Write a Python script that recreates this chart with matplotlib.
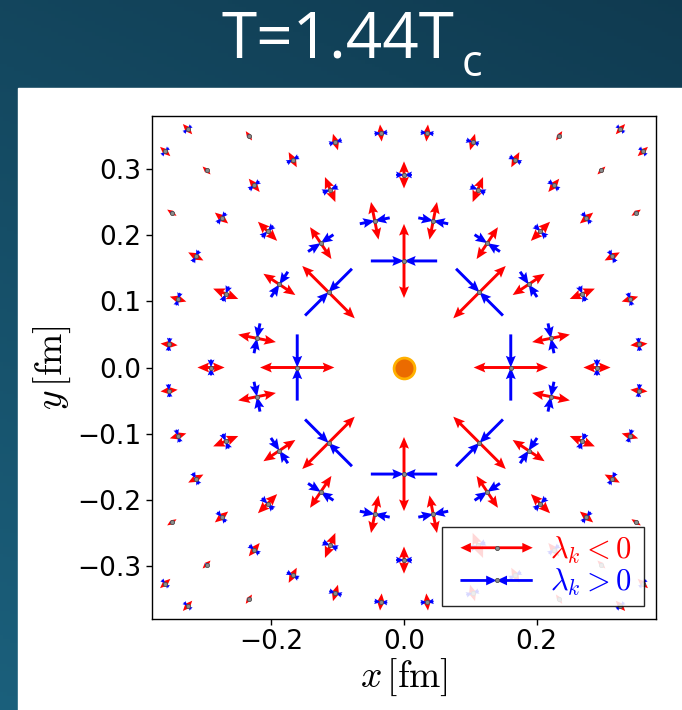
import numpy as np
import matplotlib
matplotlib.use("Agg")
import matplotlib.pyplot as plt
from matplotlib.legend_handler import HandlerBase
from matplotlib.patches import FancyArrow, Rectangle
from matplotlib.lines import Line2D

plt.rcParams["mathtext.fontset"] = "cm"

# sample points sit on rings around the source at the origin
ring_radius = [0.161, 0.226, 0.291, 0.356, 0.421, 0.486]
ring_count = [8, 16, 16, 32, 32, 64]
ring_offset = [0.0, 0.5, 0.0, 0.5, 0.0, 0.5]   # in units of the angular step
# half-lengths (fm) of the eigenvector arrows on each ring
red_len = [0.056, 0.029, 0.0205, 0.013, 0.0085, 0.0105]   # lambda_k < 0 (radial)
blue_len = [0.050, 0.023, 0.012, 0.0098, 0.0015, 0.0075]  # lambda_k > 0 (tangential)

xticks = [-0.2, 0.0, 0.2]
yticks = [-0.3, -0.2, -0.1, 0.0, 0.1, 0.2, 0.3]
lim = 0.38
legend_labels = [r"$\lambda_k < 0$", r"$\lambda_k > 0$"]

W, H = 682, 710


class ArrowPairHandler(HandlerBase):
    """Legend entry drawn as a pair of arrows with a dot in the middle."""

    def __init__(self, color, outward, lead=0.13):
        super().__init__()
        self.color = color
        self.outward = outward
        self.lead = lead

    def create_artists(self, legend, orig_handle, xdescent, ydescent,
                       width, height, fontsize, trans):
        x1 = -xdescent + width
        x0 = -xdescent + self.lead * width
        xc = 0.5 * (x0 + x1)
        y = -ydescent + 0.5 * height
        half = 0.5 * (x1 - x0)
        kw = dict(width=2.0, head_width=7.0, head_length=7.5,
                  length_includes_head=True, color=self.color, lw=0,
                  transform=trans)
        if self.outward:
            arts = [FancyArrow(xc, y, half, 0, **kw),
                    FancyArrow(xc, y, -half, 0, **kw)]
        else:
            arts = [FancyArrow(x0, y, half, 0, **kw),
                    FancyArrow(x1, y, -half, 0, **kw)]
        dot = Line2D([xc], [y], marker="o", ms=3, mfc="#8c8c8c",
                     mec="#4d4d4d", mew=0.6, ls="none", transform=trans)
        return arts + [dot]


fig = plt.figure(figsize=(W / 100, H / 100), dpi=100)

# slide background
bg = fig.add_axes([0, 0, 1, 1])
bg.set_xlim(0, W)
bg.set_ylim(0, H)
bg.axis("off")
gx, gy = np.meshgrid(np.linspace(0, 1, 200), np.linspace(0, 1, 200))
t = 0.7 * (1 - gy) + 0.3 * (1 - gx)
dark = np.array([0.062, 0.230, 0.315])
light = np.array([0.105, 0.375, 0.485])
img = dark[None, None, :] * (1 - t[..., None]) + light[None, None, :] * t[..., None]
bg.imshow(img, extent=[0, W, 0, H], origin="lower", aspect="auto", zorder=0)
bg.add_patch(Rectangle((18, 0), W - 18, H - 88, color="white", zorder=1))

bg.text(222, H - 58, "T=1.44T", color="white", fontsize=46,
        family="Open Sans", ha="left", va="baseline", zorder=2)
bg.text(462, H - 76, "c", color="white", fontsize=31,
        family="Open Sans", ha="left", va="baseline", zorder=2)

# field plot
ax = fig.add_axes([152 / W, (H - 619) / H, 504 / W, 503 / H])
ax.set_facecolor("white")

xs, ys, ur, vr, ub, vb = [], [], [], [], [], []
for r, n, off, lr, lb in zip(ring_radius, ring_count, ring_offset, red_len, blue_len):
    th = 2 * np.pi * (np.arange(n) + off) / n
    c, s = np.cos(th), np.sin(th)
    xs.append(r * c)
    ys.append(r * s)
    ur.append(lr * c)
    vr.append(lr * s)
    ub.append(-lb * s)
    vb.append(lb * c)
X, Y = np.concatenate(xs), np.concatenate(ys)
UR, VR = np.concatenate(ur), np.concatenate(vr)
UB, VB = np.concatenate(ub), np.concatenate(vb)

qkw = dict(angles="xy", scale_units="xy", scale=1, width=0.0058,
           headwidth=3.4, headlength=4.0, headaxislength=3.5)
ax.quiver(X, Y, UR, VR, color="red", pivot="tail", zorder=2, **qkw)
ax.quiver(X, Y, -UR, -VR, color="red", pivot="tail", zorder=2, **qkw)
ax.quiver(X, Y, UB, VB, color="blue", pivot="tip", zorder=3, **qkw)
ax.quiver(X, Y, -UB, -VB, color="blue", pivot="tip", zorder=3, **qkw)
ax.plot(X, Y, "o", ms=3, mfc="#8c8c8c", mec="#4d4d4d", mew=0.6, ls="none", zorder=4)
ax.plot([0], [0], "o", ms=15, mfc="#eb6b00", mec="#ffb000", mew=2, zorder=5)

ax.set_xlim(-lim, lim)
ax.set_ylim(-lim, lim)
ax.set_xticks(xticks)
ax.set_yticks(yticks)
ax.tick_params(labelsize=19, direction="out", length=4, width=1)
for sp in ax.spines.values():
    sp.set_linewidth(1)
ax.set_xlabel(r"$x\,[\mathrm{fm}]$", fontsize=27, labelpad=1)
ax.set_ylabel(r"$y\,[\mathrm{fm}]$", fontsize=27, labelpad=3)

# legend frame spans a fixed width; extra room ends up right of the labels
h_neg, h_pos = Line2D([], []), Line2D([], [])
leg = ax.legend([h_neg, h_pos], legend_labels, loc="lower left",
                bbox_to_anchor=(290 / 504, 13 / 503, 202 / 504, 0.2),
                mode="expand", borderaxespad=0,
                handler_map={h_neg: ArrowPairHandler("red", True),
                             h_pos: ArrowPairHandler("blue", False)},
                fontsize=22, handlelength=2.72, handletextpad=0.56,
                borderpad=0.25, labelspacing=0.05,
                fancybox=False, edgecolor="black", framealpha=0.85,
                labelcolor=["red", "blue"])
leg.get_frame().set_linewidth(1)
leg.set_zorder(10)

fig.savefig("out.png", dpi=100)
